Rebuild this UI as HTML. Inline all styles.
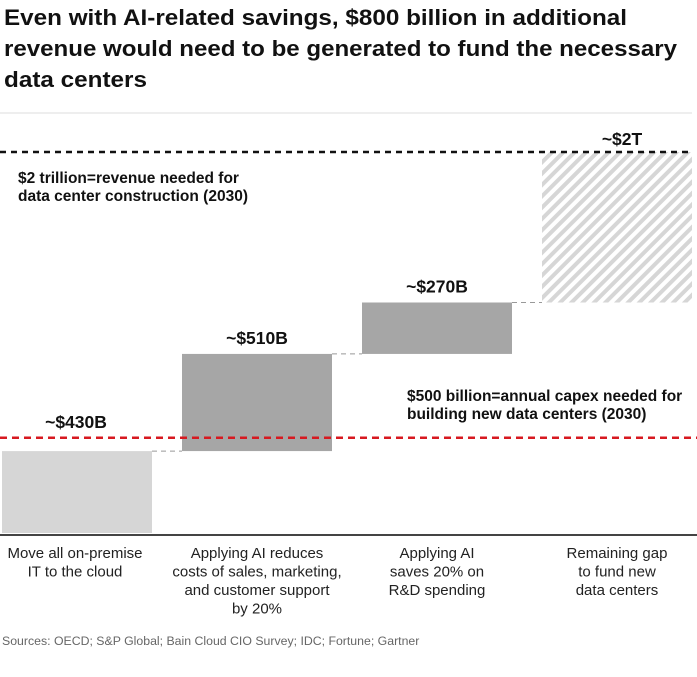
<!DOCTYPE html>
<html><head><meta charset="utf-8"><style>
body{margin:0;background:#fff;width:697px;height:677px;overflow:hidden;font-family:"Liberation Sans",sans-serif;}
svg{display:block}
</style></head><body>
<svg id="c" width="697" height="677">
<defs><pattern id="hatch" width="8" height="8" patternUnits="userSpaceOnUse" patternTransform="rotate(45)"><rect width="8" height="8" fill="#fff"/><rect width="4" height="8" fill="#d6d6d6"/></pattern></defs>
<g font-size="22.5" font-weight="bold" fill="#111">
<text x="4" y="25" textLength="623" lengthAdjust="spacingAndGlyphs">Even with AI-related savings, $800 billion in additional</text>
<text x="4" y="56" textLength="673" lengthAdjust="spacingAndGlyphs">revenue would need to be generated to fund the necessary</text>
<text x="4" y="87" textLength="143" lengthAdjust="spacingAndGlyphs">data centers</text></g>
<line x1="0" y1="113" x2="692" y2="113" stroke="#ddd"/>
<g id="bars"></g>
<g font-size="15.5" font-weight="bold" fill="#111">
<text x="18" y="183">$2 trillion=revenue needed for</text><text x="18" y="201">data center construction (2030)</text></g>
<g font-size="15.5" font-weight="bold" fill="#111">
<text x="407" y="401">$500 billion=annual capex needed for</text><text x="407" y="419">building new data centers (2030)</text></g>
<line x1="0" y1="535" x2="697" y2="535" stroke="#444" stroke-width="2"/>
<g id="cats" font-size="15" fill="#222" text-anchor="middle"></g>
<text x="2" y="645" font-size="12.3" fill="#666">Sources: OECD; S&amp;P Global; Bain Cloud CIO Survey; IDC; Fortune; Gartner</text>
</svg>
<script>
const categories=[["Move all on-premise","IT to the cloud"],["Applying AI reduces","costs of sales, marketing,","and customer support","by 20%"],["Applying AI","saves 20% on","R&D spending"],["Remaining gap","to fund new","data centers"]];
const values=[430,510,270,790];
const valueLabels=["~$430B","~$510B","~$270B","~$2T"];
const totalLine=2000;
const capexLine=500;
const NS="http://www.w3.org/2000/svg";
const y=v=>533-v*381/2000;
const xL=i=>2+i*180, bw=150;
const g=document.getElementById('bars'), cg=document.getElementById('cats');
function mk(tag,a,p){const e=document.createElementNS(NS,tag);for(const k in a)e.setAttribute(k,a[k]);(p||g).appendChild(e);return e;}
let cum=0;
const fills=["#d6d6d6","#a6a6a6","#a6a6a6","url(#hatch)"];
values.forEach((v,i)=>{
 const top=y(cum+v), bot=y(cum);
 const r=mk('rect',{x:xL(i),y:top,width:bw,height:bot-top,fill:fills[i]});
 
 
 if(i<values.length-1){
  const c=mk('line',{x1:xL(i)+bw,x2:xL(i+1),y1:y(cum+v),y2:y(cum+v),stroke:"#999","stroke-dasharray":"5,4"});
  
  
 }
 const t=mk('text',{x:xL(i)+bw/2,y:top-10,"text-anchor":"middle","font-size":"17.5","font-weight":"bold",fill:"#111"});
 t.textContent=valueLabels[i];
 
 
 if(i===3)t.setAttribute('x',xL(i)+bw/2+5),t.setAttribute('y',top-7);
 if(i===0){t.setAttribute('x',76);t.setAttribute('y',428);}
 categories[i].forEach((s,j)=>{
  const ct=mk('text',{x:xL(i)+bw/2-(i==0?2:0),y:558+j*18.5},cg);
  ct.textContent=s;
  
  
 });
 cum+=v;
});
const l1=mk('line',{x1:0,x2:692,y1:y(totalLine),y2:y(totalLine),stroke:"#111","stroke-width":2.5,"stroke-dasharray":"6,5"});


const l2=mk('line',{x1:0,x2:697,y1:y(capexLine),y2:y(capexLine),stroke:"#d71920","stroke-width":2.5,"stroke-dasharray":"7,5"});


</script>
</body></html>
